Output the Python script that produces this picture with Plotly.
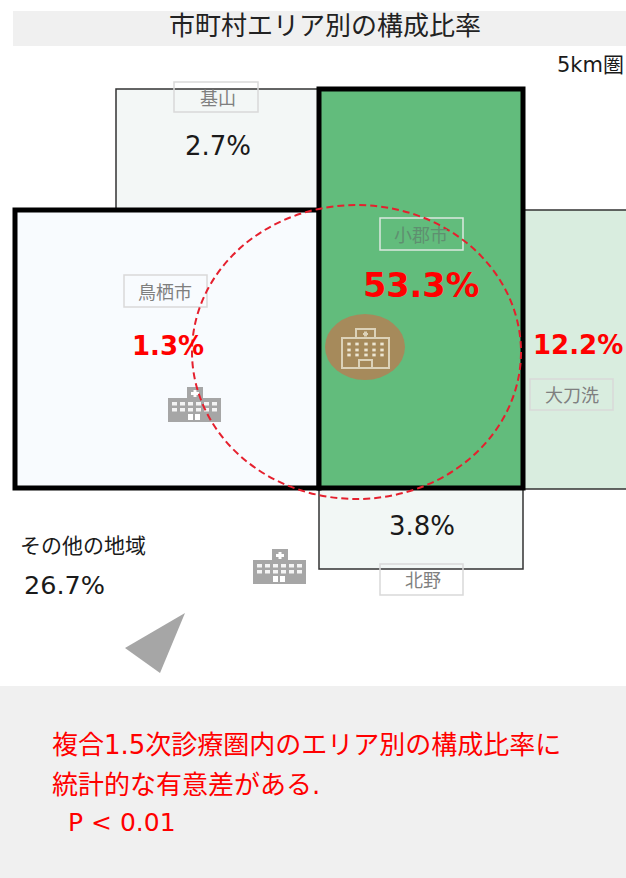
import plotly.graph_objects as go

# ---- data ----
TITLE = "市町村エリア別の構成比率"
RADIUS_LABEL = "5km圏"
AREAS = ["基山", "小郡市", "鳥栖市", "大刀洗", "北野"]
SHARES = [2.7, 53.3, 1.3, 12.2, 3.8]
OTHER_NAME = "その他の地域"
OTHER_SHARE = 26.7
NOTE_LINES = ["複合1.5次診療圏内のエリア別の構成比率に", "統計的な有意差がある.", "P < 0.01"]

FONT = "DejaVu Sans, Noto Sans CJK JP, sans-serif"
RED = "#FF0000"
GRAY = "#A6A6A6"

shapes = []
annos = []


def rect(x0, y0, x1, y1, fill=None, line=None, lw=0, dash=None):
    shapes.append(dict(type="rect", xref="x", yref="y", x0=x0, y0=y0, x1=x1, y1=y1,
                       fillcolor=fill or "rgba(0,0,0,0)",
                       line=dict(color=line or "rgba(0,0,0,0)", width=lw, dash=dash or "solid")))


def text(x, y, s, size, color="#1A1A1A", bold=False, anchor="center"):
    annos.append(dict(x=x, y=y, xref="x", yref="y", text=f"<b>{s}</b>" if bold else s,
                      showarrow=False, xanchor=anchor, yanchor="middle",
                      font=dict(family=FONT, size=size, color=color)))


def pct(v):
    return f"{v:.1f}%"


# panels
rect(13, 11, 626, 46, fill="#F0F0F0")
rect(0, 686, 626, 878, fill="#F0F0F0")

# thin tiles
rect(116, 89, 319, 209, fill="#F3F7F6", line="#333333", lw=1.5)
rect(523, 210, 630, 489, fill="#D9EDDF", line="#333333", lw=1.5)
rect(319, 489, 523, 569, fill="#F2F7F5", line="#333333", lw=1.5)
# thick tiles
rect(15, 210, 319, 488, fill="#F8FBFE", line="#000000", lw=5)
rect(319, 89, 523, 488, fill="#62BC7C", line="#000000", lw=5)

# label boxes
label_boxes = [(174, 82, 258, 112), (380, 218, 463, 250), (124, 275, 207, 307), (530, 379, 613, 410), (380, 564, 463, 595)]
label_text_x = [218, 421, 165, 572, 423]
for (x0, y0, x1, y1), name, tx in zip(label_boxes, AREAS, label_text_x):
    box_line = "#DCE8E0" if name == AREAS[1] else "#D9D9D9"
    rect(x0, y0, x1, y1, line=box_line, lw=1.5)
    tc = "#5F8F70" if name == AREAS[1] else "#7F7F7F"
    text(tx, (y0 + y1) / 2 + 1, name, 18, color=tc)

# percentages
text(218, 146, pct(SHARES[0]), 26)
text(421, 285, pct(SHARES[1]), 33.5, color=RED, bold=True)
text(168, 346, pct(SHARES[2]), 26, color=RED, bold=True)
text(578, 345, pct(SHARES[3]), 26, color=RED, bold=True)
text(422, 526, pct(SHARES[4]), 26)
text(18, 546, OTHER_NAME, 21, anchor="left")
text(22, 585, pct(OTHER_SHARE), 25.5, anchor="left")

# headings
text(325, 26, TITLE, 26, color="#222222")
text(555, 65, RADIUS_LABEL, 21, anchor="left")

# note
text(50, 745, NOTE_LINES[0], 26, color=RED, anchor="left")
text(50, 785, NOTE_LINES[1], 26, color=RED, anchor="left")
text(66, 822, NOTE_LINES[2], 25, color=RED, anchor="left")


def gray_icon(x0, y0):
    rect(x0, y0 + 11, x0 + 53, y0 + 35, fill=GRAY)
    rect(x0 + 19, y0, x0 + 35, y0 + 11, fill=GRAY)
    rect(x0 + 25.5, y0 + 3, x0 + 28.5, y0 + 10, fill="#FFFFFF")
    rect(x0 + 23, y0 + 5, x0 + 31, y0 + 8, fill="#FFFFFF")
    for row in (0, 1):
        for c in range(6):
            rect(x0 + 4 + c * 8, y0 + 15 + row * 6, x0 + 9 + c * 8, y0 + 18.5 + row * 6, fill="#F4F4F4")
    rect(x0 + 20, y0 + 27, x0 + 25, y0 + 33, fill="#FFFFFF")
    rect(x0 + 27, y0 + 27, x0 + 32, y0 + 33, fill="#FFFFFF")


gray_icon(168, 387)
gray_icon(253, 549)

# main hospital
shapes.append(dict(type="circle", xref="x", yref="y", x0=325, y0=314, x1=405, y1=380,
                   fillcolor="#A68A5B", line=dict(width=0)))
ICON = "#DCD2B8"
rect(342, 338, 389, 368, line=ICON, lw=2)
rect(356, 329, 375, 338, line=ICON, lw=2)
rect(359, 360, 372, 368, line=ICON, lw=2)
rect(364, 331.5, 367, 336.5, fill=ICON)
rect(363, 333, 368, 335, fill=ICON)
for wy in (344, 350, 355):
    for wx in (349, 357, 366, 374, 382):
        rect(wx - 1.7, wy - 1.4, wx + 1.7, wy + 1.4, fill="#EDE6D2")

# triangle
shapes.append(dict(type="path", xref="x", yref="y",
                   path="M 185 613 L 125 648 L 160 673 Z", fillcolor=GRAY, line=dict(width=0)))

# catchment circle
shapes.append(dict(type="circle", xref="x", yref="y", x0=192, y0=205, x1=521, y1=499,
                   fillcolor="rgba(0,0,0,0)", line=dict(color="#E5202E", width=2, dash="7px,4px")))

fig = go.Figure()
fig.update_layout(
    width=626, height=878, margin=dict(l=0, r=0, t=0, b=0),
    paper_bgcolor="#FFFFFF", plot_bgcolor="#FFFFFF",
    xaxis=dict(range=[0, 626], visible=False, fixedrange=True),
    yaxis=dict(range=[878, 0], visible=False, fixedrange=True),
    shapes=shapes, annotations=annos, showlegend=False,
)
fig.write_html("out.html", config=dict(displayModeBar=False),
               post_script="document.body.style.margin='0';")
